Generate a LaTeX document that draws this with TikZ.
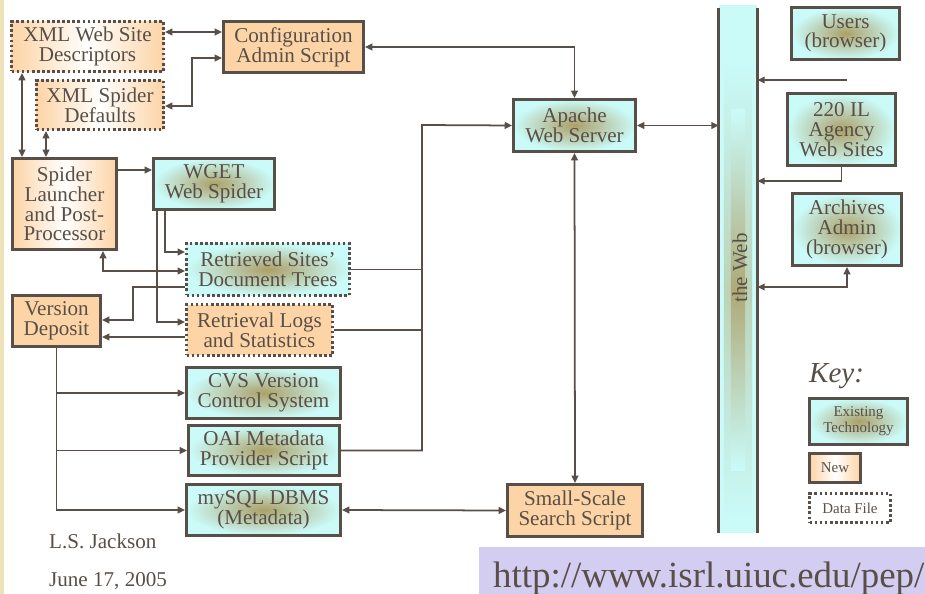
\documentclass[tikz,border=0pt]{standalone}
\usepackage{fontspec}
\setmainfont{Liberation Serif}
\usetikzlibrary{arrows.meta}
\definecolor{inkgray}{RGB}{88,79,72}
\definecolor{peach}{RGB}{253,212,166}
\definecolor{aqua}{RGB}{202,251,249}
\definecolor{olivebrown}{RGB}{172,160,104}
\definecolor{lavender}{RGB}{212,205,242}
\definecolor{strip}{RGB}{240,226,184}
\tikzset{
	box/.style={draw=inkgray, line width=1.6pt, inner sep=1pt, align=center, text=inkgray, font=\fontsize{12}{11.2}\selectfont},
	newbox/.style={box, fill=peach},
	newglow/.style={box, left color=peach, right color=peach, middle color=white},
	techbox/.style={box, inner color=olivebrown, outer color=aqua},
	datafile/.style={dash pattern=on 1.5pt off 1.4pt},
	keyfont/.style={font=\fontsize{8.5}{9}\selectfont},
	conn/.style={draw=inkgray, line width=1pt},
	plain/.style={text=inkgray, font=\fontsize{12}{12}\selectfont},
	>={Triangle[length=4.2pt,width=3.8pt]}
}
\begin{document}
\begin{tikzpicture}[x=0.02cm, y=-0.02cm]
	\useasboundingbox (0,0) rectangle (925,594);
	\fill[strip] (0,0) rectangle (4,594);
	\fill[lavender] (479,547) rectangle (925,594);

	\node[newglow, datafile, minimum width=3.04cm, minimum height=1.0cm] (xmlsite) at (87.5,46.5) {XML Web Site\\Descriptors};
	\node[newglow, datafile, minimum width=2.54cm, minimum height=0.98cm] (xmldef) at (100,105) {XML Spider\\Defaults};
	\node[newbox, minimum width=2.8cm, minimum height=1.02cm] (config) at (293.5,47) {Configuration\\Admin Script};
	\node[newglow, minimum width=2.08cm, minimum height=1.82cm] (launcher) at (64.5,204) {Spider\\Launcher\\and Post-\\Processor};
	\node[techbox, minimum width=2.42cm, minimum height=1.02cm] (wget) at (214,184) {WGET\\Web Spider};
	\node[techbox, datafile, minimum width=3.26cm, minimum height=1.04cm] (trees) at (268,269.5) {Retrieved Sites’\\Document Trees};
	\node[newbox, minimum width=1.76cm, minimum height=1.02cm] (deposit) at (56.5,321) {Version\\Deposit};
	\node[newbox, datafile, minimum width=2.92cm, minimum height=1.02cm] (logs) at (259.5,330) {Retrieval Logs\\and Statistics};
	\node[techbox, minimum width=3.08cm, minimum height=1.02cm] (cvs) at (263.5,393) {CVS Version\\Control System};
	\node[techbox, minimum width=3.02cm, minimum height=1.0cm] (oai) at (264,450.5) {OAI Metadata\\Provider Script};
	\node[techbox, minimum width=3.08cm, minimum height=1.02cm] (mysql) at (263.5,510) {mySQL DBMS\\(Metadata)};
	\node[techbox, minimum width=2.44cm, minimum height=1.04cm] (apache) at (574.5,125.5) {Apache\\Web Server};
	\node[newbox, minimum width=2.7cm, minimum height=1.04cm] (search) at (575,510.5) {Small-Scale\\Search Script};
	\node[techbox, minimum width=2.16cm, minimum height=1.04cm] (users) at (845.5,33.5) {Users\\(browser)};
	\node[techbox, minimum width=2.16cm, minimum height=1.44cm] (agency) at (841.5,129.5) {220 IL\\Agency\\Web Sites};
	\node[techbox, minimum width=2.18cm, minimum height=1.44cm] (archives) at (847,229.5) {Archives\\Admin\\(browser)};

	\node[fill=aqua, inner sep=0pt, minimum width=0.76cm, minimum height=10.56cm] (web) at (738,269) {};
	\shade[top color=aqua, bottom color=aqua, middle color=olivebrown!45!aqua] ([xshift=-8pt]web.north |- 0,60) rectangle ([xshift=8pt]web.south |- 0,520);
	\shade[top color=aqua, bottom color=aqua, middle color=olivebrown!90!aqua] ([xshift=-4pt]web.north |- 0,110) rectangle ([xshift=4pt]web.south |- 0,470);
	\draw[inkgray, line width=1.6pt] ([yshift=-2pt]web.north west) -- (web.south west) ([yshift=-2pt]web.north east) -- (web.south east);
	\node[plain, rotate=90] (webtext) at (740,268) {the Web};

	\node[plain, anchor=base west, font=\fontsize{16.5}{16.5}\selectfont\itshape] (keytitle) at (803,382) {Key:};
	\node[techbox, keyfont, minimum width=1.96cm, minimum height=0.92cm] (keytech) at (858.5,421.5) {Existing\\Technology};
	\node[newglow, keyfont, minimum width=1.02cm, minimum height=0.58cm] (keynew) at (835,468) {New};
	\node[box, datafile, keyfont, minimum width=1.62cm, minimum height=0.58cm] (keydata) at (850,508) {Data File};

	\node[plain, anchor=base west] (author) at (43,548) {L.S. Jackson};
	\node[plain, anchor=base west] (date) at (43,586) {June 17, 2005};
	\node[plain, anchor=base west, font=\fontsize{21}{21}\selectfont] (url) at (487,587) {http://www.isrl.uiuc.edu/pep/};

	\coordinate (bus) at (422,125);
	\coordinate (userslink) at (847,80);

	\draw[conn, <->] (xmlsite.east |- 0,32) -- (config.west |- 0,32);
	\draw[conn, <->] (config.west |- 0,58) -- (192,58) -- (192,106) -- (xmldef.east |- 0,106);
	\draw[conn, <->] (xmlsite.south -| 22,0) -- (launcher.north -| 22,0);
	\draw[conn, <->] (xmldef.south -| 46,0) -- (launcher.north -| 46,0);
	\draw[conn, ->] (launcher.east |- 0,170) -- (wget.west |- 0,170);
	\draw[conn, <->] (launcher.south -| 103,0) |- (trees.west |- 0,271);
	\draw[conn, ->] (wget.south -| 165,0) |- (trees.west |- 0,252);
	\draw[conn, ->] (wget.south -| 157,0) |- (logs.west |- 0,322);
	\draw[conn, ->] (trees.west |- 0,287) -- (133,287) -- (133,320) -- (deposit.east |- 0,320);
	\draw[conn, ->] (logs.west |- 0,337) -- (deposit.east |- 0,337);
	\draw[conn, ->] (deposit.south) |- (mysql.west);
	\draw[conn, ->] (cvs.west -| deposit.south) -- (cvs.west);
	\draw[conn, ->] (oai.west -| deposit.south) -- (oai.west);
	\draw[conn, ->] (oai.east) -| (bus) -- (apache.west);
	\draw[conn] (trees.east) -- (trees.east -| bus);
	\draw[conn] (logs.east) -- (logs.east -| bus);
	\draw[conn, <->] (config.east) -| (apache.north);
	\draw[conn, <->] (apache.south) -- (search.north);
	\draw[conn, <->] (mysql.east) -- (search.west);
	\draw[conn, <->] (apache.east) -- (apache.east -| web.west);
	\draw[conn, ->] (userslink) -- (userslink -| web.east);
	\draw[conn, ->] (agency.south) |- (web.east |- 0,181);
	\draw[conn, <->] (archives.south) |- (web.east |- 0,287);
\end{tikzpicture}
\end{document}
